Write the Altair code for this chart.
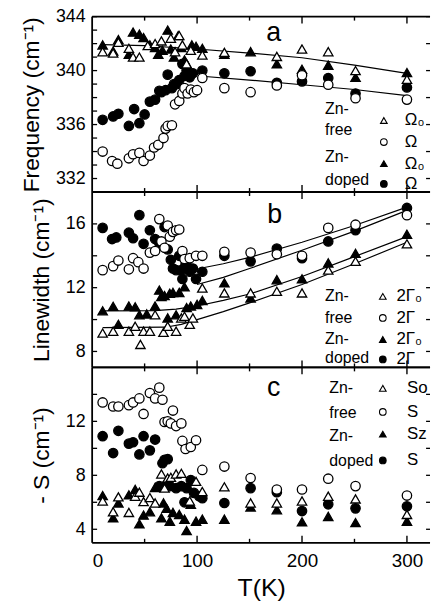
import altair as alt
import pandas as pd

FONT = "Liberation Sans"
W, H = 341, 177
XDOM = [0, 322]

# ---------------- panel a : Frequency ----------------
a_free_O0_T = [10, 20, 25, 35, 39, 45, 53, 60, 66, 75, 79, 83, 86, 90, 94, 105, 126, 176, 200, 225, 251, 300]
a_free_O0_v = [341.4, 341.3, 342.1, 341.65, 341.0, 341.0, 341.85, 342.0, 342.2, 342.4, 341.4, 342.6, 341.9, 340.5, 341.5, 341.15, 341.35, 341.05, 341.6, 341.4, 340.0, 339.35]
a_free_O_T = [10, 19, 24, 35, 39, 45, 49, 55, 59, 63, 68, 70, 72, 76, 79, 83, 86, 88, 91, 94, 97, 100, 105, 126, 151, 176, 200, 225, 251, 300]
a_free_O_v = [334.0, 333.3, 333.1, 333.5, 333.8, 333.9, 333.3, 333.7, 334.3, 334.5, 335.0, 335.7, 335.9, 335.95, 337.5, 337.75, 338.3, 338.7, 338.3, 338.6, 338.4, 338.55, 339.45, 338.7, 338.4, 338.9, 339.65, 338.95, 337.95, 337.85]
a_dop_O0_T = [10, 20, 25, 35, 39, 45, 49, 55, 60, 63, 67, 72, 75, 78, 82, 85, 88, 90, 95, 99, 105, 126, 151, 176, 200, 225, 251, 300]
a_dop_O0_v = [341.9, 341.45, 342.3, 341.2, 342.85, 342.7, 342.45, 341.9, 341.7, 341.2, 341.5, 343.0, 341.6, 341.0, 342.6, 341.7, 340.8, 340.5, 341.9, 341.8, 341.65, 341.2, 341.4, 340.5, 340.1, 340.4, 339.5, 339.85]
a_dop_O_T = [10, 20, 25, 35, 40, 45, 50, 55, 60, 64, 66, 70, 72, 76, 78, 81, 83, 86, 88, 90, 93, 96, 105, 126, 151, 176, 200, 225, 251, 300]
a_dop_O_v = [336.35, 336.6, 336.8, 335.9, 337.15, 336.1, 336.75, 337.7, 337.85, 338.5, 338.4, 338.55, 339.7, 338.7, 339.0, 339.0, 339.3, 340.5, 339.6, 340.0, 339.5, 339.8, 340.0, 339.8, 339.95, 339.1, 339.2, 339.45, 338.3, 338.75]
a_fit1_T = [10, 50, 100, 150, 200, 250, 300]
a_fit1_v = [341.92, 341.85, 341.6, 341.3, 340.95, 340.4, 339.8]
a_fit2_T = [102, 150, 200, 250, 300]
a_fit2_v = [339.6, 339.3, 338.95, 338.6, 338.15]

# ---------------- panel b : Linewidth ----------------
b_free_G0_T = [10, 20, 35, 41, 46, 49, 55, 60, 68, 72, 80, 85, 88, 93, 96, 105, 126, 151, 176, 200, 225, 251, 300]
b_free_G0_v = [9.15, 9.27, 9.27, 9.58, 8.44, 9.27, 9.27, 10.3, 9.2, 9.58, 9.27, 10.1, 10.2, 9.7, 10.1, 11.98, 11.67, 11.67, 11.77, 11.67, 13.1, 13.65, 14.75]
b_free_G_T = [10, 20, 25, 35, 39, 44, 49, 55, 60, 64, 66, 69, 72, 74, 77, 80, 83, 86, 88, 93, 99, 105, 126, 151, 176, 200, 225, 251, 300]
b_free_G_v = [13.1, 13.35, 13.7, 13.15, 13.85, 13.6, 13.2, 14.2, 14.3, 16.3, 14.9, 14.5, 15.9, 15.2, 15.5, 15.6, 15.65, 14.3, 13.8, 13.85, 14.0, 14.0, 14.25, 14.2, 14.1, 14.0, 15.75, 15.95, 16.55]
b_dop_G0_T = [10, 20, 25, 35, 41, 45, 52, 60, 64, 66, 69, 72, 74, 77, 80, 83, 88, 90, 94, 100, 105, 126, 151, 176, 200, 225, 251, 300]
b_dop_G0_v = [10.55, 10.83, 9.7, 10.85, 10.8, 10.3, 10.35, 10.85, 11.85, 11.45, 11.5, 10.1, 11.65, 11.7, 10.3, 11.7, 12.05, 10.75, 10.85, 10.95, 11.2, 12.3, 11.35, 12.5, 12.55, 13.55, 14.15, 15.35]
b_dop_G_T = [10, 19, 23, 35, 39, 45, 49, 55, 60, 64, 69, 72, 75, 77, 80, 83, 85, 86, 89, 91, 93, 96, 99, 105, 126, 151, 176, 200, 225, 251, 300]
b_dop_G_v = [15.75, 15.05, 15.15, 15.45, 15.1, 16.55, 14.75, 15.6, 15.05, 14.8, 15.8, 14.4, 13.75, 13.2, 13.1, 14.0, 13.1, 12.55, 13.45, 13.3, 13.0, 13.2, 12.55, 13.0, 14.0, 13.65, 14.45, 13.85, 14.9, 15.6, 17.0]
b_fit1_T = [102, 125, 150, 200, 250, 300]
b_fit1_v = [13.2, 13.5, 13.9, 14.85, 15.9, 17.05]
b_fit2_T = [100, 125, 150, 200, 250, 300]
b_fit2_v = [12.2, 12.65, 13.2, 14.35, 15.55, 16.85]
b_fit3_T = [10, 60, 80, 100, 125, 150, 200, 250, 300]
b_fit3_v = [10.55, 10.56, 10.65, 10.85, 11.2, 11.6, 12.7, 13.95, 15.2]
b_fit4_T = [10, 70, 85, 100, 125, 150, 200, 250, 300]
b_fit4_v = [9.5, 9.52, 9.7, 10.0, 10.5, 11.05, 12.2, 13.5, 14.85]

# ---------------- panel c : -S ----------------
c_free_S0_T = [10, 20, 25, 35, 41, 45, 49, 55, 60, 66, 69, 72, 75, 80, 85, 93, 99, 105, 126, 151, 176, 200, 225, 251, 300]
c_free_S0_v = [6.1, 5.3, 6.4, 5.25, 6.45, 6.75, 6.05, 6.35, 5.95, 8.1, 7.05, 7.8, 7.85, 8.1, 8.15, 6.1, 7.55, 6.8, 7.15, 5.95, 5.95, 6.1, 6.45, 6.25, 5.1]
c_free_S_T = [10, 20, 25, 35, 39, 45, 49, 55, 60, 64, 67, 69, 72, 75, 77, 80, 85, 86, 89, 94, 99, 105, 126, 151, 176, 200, 225, 251, 300]
c_free_S_v = [13.4, 13.1, 13.1, 13.2, 13.4, 13.7, 12.55, 14.1, 13.7, 14.5, 13.6, 11.95, 12.0, 11.85, 12.8, 11.65, 11.85, 10.55, 9.95, 10.1, 10.6, 8.4, 8.65, 7.8, 6.95, 6.95, 7.75, 7.2, 6.5]
c_dop_Sz_T = [10, 20, 25, 35, 41, 45, 49, 55, 60, 66, 68, 71, 74, 77, 83, 88, 90, 94, 99, 105, 126, 151, 176, 200, 225, 251, 300]
c_dop_Sz_v = [6.5, 4.85, 5.95, 6.55, 6.95, 4.4, 5.05, 5.3, 7.1, 4.85, 5.95, 5.55, 4.6, 5.25, 5.1, 4.75, 3.9, 5.85, 4.6, 4.75, 4.75, 5.65, 5.45, 4.55, 4.95, 4.5, 4.6]
c_dop_S_T = [10, 20, 25, 35, 39, 45, 49, 55, 60, 64, 67, 69, 71, 72, 74, 80, 85, 88, 90, 94, 97, 102, 105, 126, 151, 176, 200, 225, 251, 300]
c_dop_S_v = [10.9, 9.65, 11.3, 10.35, 10.45, 9.55, 10.9, 9.85, 10.65, 7.2, 8.9, 9.15, 7.3, 9.2, 7.2, 7.05, 7.2, 6.0, 7.05, 7.65, 6.7, 6.45, 6.3, 5.95, 7.05, 6.75, 5.35, 5.85, 5.55, 5.7]

# ---------------- legends / annotations (data coordinates) ----------------
group_text = ["Zn-", "free", "Zn-", "doped"]
a_sym_labels = ["\u03a9\u2080", "\u03a9", "\u03a9\u2080", "\u03a9"]
b_sym_labels = ["2\u0393\u2080", "2\u0393", "2\u0393\u2080", "2\u0393"]
c_sym_labels = ["So", "S", "Sz", "S"]
a_leg = dict(tx=222, sx=278, lx=298, ty=[337.15, 335.6, 333.6, 331.9], sy=[336.3, 334.7, 333.1, 331.6], letter=(173, 342.2, "a"))
b_leg = dict(tx=222, sx=277, lx=290, ty=[11.45, 10.1, 8.75, 7.6], sy=[11.45, 10.1, 8.75, 7.5], letter=(174, 16.05, "b"))
c_leg = dict(tx=226, sx=277, lx=300, ty=[14.45, 12.6, 10.9, 9.05], sy=[14.45, 12.7, 11.05, 9.1], letter=(173, 13.9, "c"))

# tick values
x_major = [100, 200, 300]
x_minor = [50, 150, 250]

xs = alt.Scale(domain=XDOM, nice=False, zero=False)


def ys(dom):
    return alt.Scale(domain=dom, nice=False, zero=False)


def df(T, v):
    return pd.DataFrame({"T": T, "v": v})


def sym(data, dom, shape, filled, size=90, sw=1.3):
    return alt.Chart(data).mark_point(
        shape=shape, filled=True, fill="black" if filled else "white",
        stroke="black", strokeWidth=sw, size=size, opacity=1, clip=True
    ).encode(x=alt.X("T:Q", scale=xs, axis=None), y=alt.Y("v:Q", scale=ys(dom), axis=None))


def fit(T, v, dom):
    return alt.Chart(df(T, v)).mark_line(color="black", strokeWidth=1.2, clip=True).encode(
        x=alt.X("T:Q", scale=xs, axis=None), y=alt.Y("v:Q", scale=ys(dom), axis=None))


def text_layer(T, v, txt, dom, size=16, align="left", baseline="middle"):
    d = pd.DataFrame({"T": T, "v": v, "t": txt})
    return alt.Chart(d).mark_text(font=FONT, fontSize=size, align=align, baseline=baseline,
                                  color="black", clip=True).encode(
        x=alt.X("T:Q", scale=xs, axis=None), y=alt.Y("v:Q", scale=ys(dom), axis=None), text="t:N")


def xticks(vals, y0, y1):
    return alt.Chart(pd.DataFrame({"T": vals})).mark_rule(color="black", strokeWidth=1.4).encode(
        x=alt.X("T:Q", scale=xs, axis=None), y=alt.value(y0), y2=alt.value(y1))


def yticks(vals, dom, x0, x1):
    return alt.Chart(pd.DataFrame({"v": vals})).mark_rule(color="black", strokeWidth=1.3).encode(
        y=alt.Y("v:Q", scale=ys(dom), axis=None), x=alt.value(x0), x2=alt.value(x1))


def frame_line(x0, x1, y0, y1):
    return alt.Chart(pd.DataFrame({"k": [0]})).mark_rule(color="black", strokeWidth=1.8).encode(
        x=alt.value(x0), x2=alt.value(x1), y=alt.value(y0), y2=alt.value(y1))


AX = dict(grid=False, domainColor="black", tickColor="black", labelColor="black",
          titleColor="black", labelFont=FONT, titleFont=FONT, titleFontWeight="normal")


def frame(dom, ylab_vals, yleft_ticks, yright_ticks, ytitle, xlabels):
    L = []
    xaxis = None
    if xlabels:
        xaxis = alt.Axis(orient="bottom", values=[0, 100, 200, 300], ticks=False, tickSize=0, domain=False,
                         labelFontSize=19, labelPadding=9, title="T(K)", titleFontSize=25, titlePadding=5, **AX)
    yaxis = alt.Axis(orient="left", values=ylab_vals, ticks=False, tickSize=0, domain=False,
                     labelFontSize=18, labelPadding=7, title=ytitle, titleFontSize=23, titlePadding=12, **AX)
    d = pd.DataFrame({"T": XDOM, "v": dom})
    L.append(alt.Chart(d).mark_point(opacity=0).encode(
        x=alt.X("T:Q", scale=xs, axis=xaxis), y=alt.Y("v:Q", scale=ys(dom), axis=yaxis)))
    L.append(frame_line(0, 0, 0, H))
    L.append(frame_line(0, W, 0, 0))
    L.append(frame_line(0, W, H, H))
    L.append(xticks(x_major, H, H - 7))
    L.append(xticks(x_minor, H, H - 4))
    L.append(xticks(x_major, 0, 7))
    L.append(xticks(x_minor, 0, 4))
    L.append(yticks(yleft_ticks, dom, 0, 5))
    L.append(yticks(yright_ticks, dom, W, W - 4))
    return L


def legend(dom, leg, sym_labels):
    L = []
    L.append(text_layer([leg["tx"]] * 4, leg["ty"], group_text, dom))
    L.append(text_layer([leg["lx"]] * 4, leg["sy"], sym_labels, dom, size=17))
    shapes = [("triangle-up", False), ("circle", False), ("triangle-up", True), ("circle", True)]
    for (shp, fl), yv in zip(shapes, leg["sy"]):
        L.append(sym(df([leg["sx"]], [yv]), dom, shp, fl, size=45, sw=1.1))
    lt, lv, ltxt = leg["letter"]
    L.append(text_layer([lt], [lv], [ltxt], dom, size=27, align="center", baseline="alphabetic"))
    return L


def panel(dom, series, fits, leg, sym_labels, ylab_vals, yl, yr, ytitle, xlabels=False):
    layers = frame(dom, ylab_vals, yl, yr, ytitle, xlabels)
    for T, v in fits:
        layers.append(fit(T, v, dom))
    for (T, v), (shp, fl) in zip(series, [("triangle-up", True), ("circle", True),
                                          ("triangle-up", False), ("circle", False)]):
        layers.append(sym(df(T, v), dom, shp, fl))
    layers += legend(dom, leg, sym_labels)
    return alt.layer(*layers).resolve_axis(x="independent", y="independent").properties(width=W, height=H)


a_dom = [331, 344]
b_dom = [7, 18]
c_dom = [3, 16]

pa = panel(a_dom,
           [(a_dop_O0_T, a_dop_O0_v), (a_dop_O_T, a_dop_O_v), (a_free_O0_T, a_free_O0_v), (a_free_O_T, a_free_O_v)],
           [(a_fit1_T, a_fit1_v), (a_fit2_T, a_fit2_v)], a_leg, a_sym_labels,
           [332, 336, 340, 344], list(range(332, 345)), list(range(332, 345, 2)),
           "Frequency (cm\u207b\u00b9)")
pb = panel(b_dom,
           [(b_dop_G0_T, b_dop_G0_v), (b_dop_G_T, b_dop_G_v), (b_free_G0_T, b_free_G0_v), (b_free_G_T, b_free_G_v)],
           [(b_fit1_T, b_fit1_v), (b_fit2_T, b_fit2_v), (b_fit3_T, b_fit3_v), (b_fit4_T, b_fit4_v)], b_leg, b_sym_labels,
           [8, 12, 16], list(range(8, 18, 2)), list(range(8, 18, 2)),
           "Linewidth (cm\u207b\u00b9)")
pc = panel(c_dom,
           [(c_dop_Sz_T, c_dop_Sz_v), (c_dop_S_T, c_dop_S_v), (c_free_S0_T, c_free_S0_v), (c_free_S_T, c_free_S_v)],
           [], c_leg, c_sym_labels,
           [4, 8, 12], list(range(4, 16, 2)), list(range(4, 16, 2)),
           "- S (cm\u207b\u00b9)", xlabels=True)

chart = alt.vconcat(pa, pb, pc, spacing=0, bounds="flush").configure_view(stroke=None).properties(
    padding={"left": 20, "top": 5, "right": 0, "bottom": 0}, background="white")

chart.save("out.html", embed_options={"renderer": "svg", "actions": False})
